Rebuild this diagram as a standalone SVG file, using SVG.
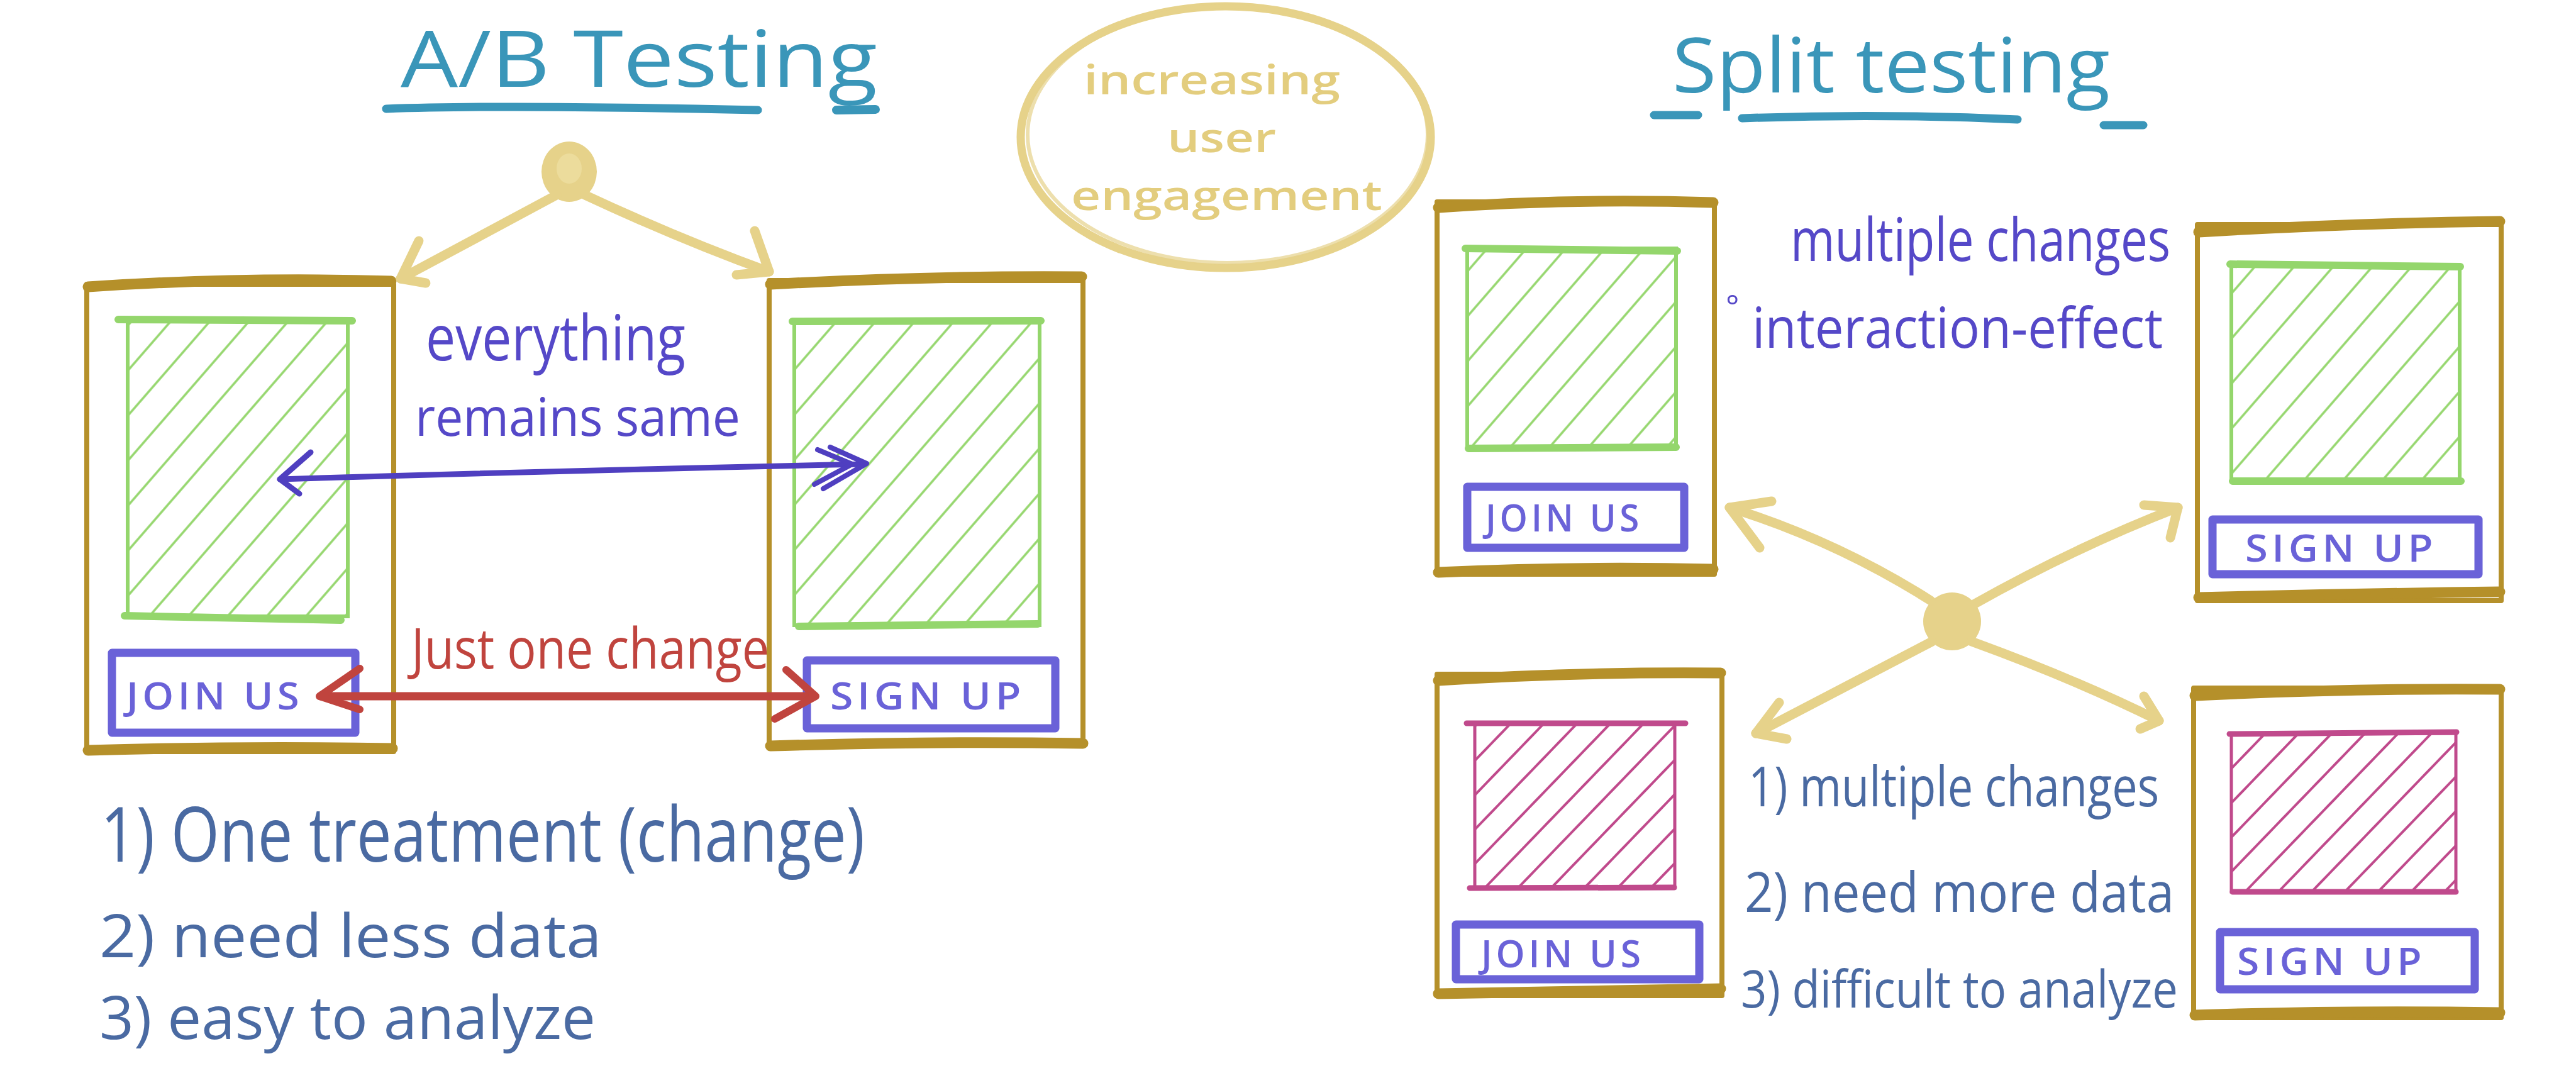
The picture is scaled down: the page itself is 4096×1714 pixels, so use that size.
<svg xmlns="http://www.w3.org/2000/svg" width="4096" height="1714" viewBox="0 0 4096 1714">
<defs>
<style>
.frame{fill:none;stroke:#b5902a;stroke-width:8;stroke-linecap:round;stroke-linejoin:round}
.frameTB{fill:none;stroke:#b5902a;stroke-width:17;stroke-linecap:round}
.green{stroke:#94d66c;stroke-width:6;stroke-linecap:round}
.greenTB{stroke:#94d66c;stroke-width:12;stroke-linecap:round}
.mag{stroke:#c04a8c;stroke-width:5;stroke-linecap:round}
.magTB{stroke:#c04a8c;stroke-width:9;stroke-linecap:round}
.btn{fill:none;stroke:#6a62d8;stroke-width:13;stroke-linejoin:round;stroke-linecap:round}
.btnt{font-family:"Open Sans","DejaVu Sans",sans-serif;font-size:60px;font-weight:600;fill:#6a62d8;letter-spacing:6px}
.hand{font-family:"Open Sans","DejaVu Sans",sans-serif;font-weight:400}
.title{fill:#3a96b9}
.purple{fill:#5548c8}
.list{fill:#4a6aa2}
.red{fill:#c0443e}
.yel{fill:#e3cd7e;font-weight:600}
.yline{fill:none;stroke:#e6d28a;stroke-width:15;stroke-linecap:round;stroke-linejoin:round}
</style>
<pattern id="hg" patternUnits="userSpaceOnUse" width="47" height="47" patternTransform="rotate(41)">
<line x1="23" y1="0" x2="23" y2="47" stroke="#94d66c" stroke-width="3.5"/>
</pattern>
<pattern id="hm" patternUnits="userSpaceOnUse" width="38" height="38" patternTransform="rotate(44)">
<line x1="19" y1="0" x2="19" y2="38" stroke="#c04a8c" stroke-width="4"/>
</pattern>
</defs>
<rect width="4096" height="1714" fill="#ffffff"/>

<g id="ab-title">
<text class="hand title" x="637" y="138" font-size="125" textLength="758" lengthAdjust="spacingAndGlyphs">A/B Testing</text>
<path d="M614 173 Q800 166 1205 175" fill="none" stroke="#3a96b9" stroke-width="13" stroke-linecap="round"/>
<path d="M1330 175 L1392 174" fill="none" stroke="#3a96b9" stroke-width="14" stroke-linecap="round"/>
</g>

<g id="ab-dot">
<ellipse cx="905" cy="273" rx="44" ry="48" fill="#e6d28a"/>
<ellipse cx="905" cy="268" rx="20" ry="24" fill="#ecdc9c"/>
</g>

<g id="engagement">
<ellipse cx="1949" cy="218" rx="326" ry="208" fill="none" stroke="#e6d28a" stroke-width="13"/>
<ellipse cx="1952" cy="214" rx="318" ry="204" fill="none" stroke="#e6d28a" stroke-width="6" opacity="0.7"/>
<text class="hand yel" x="1723" y="150" font-size="66" textLength="408" lengthAdjust="spacingAndGlyphs">increasing</text>
<text class="hand yel" x="1856" y="242" font-size="66" textLength="173" lengthAdjust="spacingAndGlyphs">user</text>
<text class="hand yel" x="1703" y="334" font-size="66" textLength="495" lengthAdjust="spacingAndGlyphs">engagement</text>
</g>

<g id="ab-phone-a">
<rect class="frame" x="138" y="452" width="488" height="743"/>
<path class="frameTB" d="M140 456 Q380 440 622 447"/>
<path class="frameTB" d="M140 1193 Q380 1186 624 1190"/>
<rect x="203" y="510" width="350" height="470" fill="url(#hg)"/>
<rect x="203" y="510" width="350" height="470" fill="none" class="green"/>
<path class="greenTB" d="M188 508 L560 510 M198 979 L542 986"/>
<rect class="btn" x="178" y="1038" width="387" height="127"/>
<text class="btnt" x="201" y="1128" textLength="281" lengthAdjust="spacingAndGlyphs">JOIN US</text>
</g>

<g id="ab-phone-b">
<rect class="frame" x="1223" y="446" width="499" height="739"/>
<path class="frameTB" d="M1225 452 Q1480 438 1720 440"/>
<path class="frameTB" d="M1225 1186 Q1480 1178 1722 1182"/>
<rect x="1263" y="510" width="390" height="484" fill="url(#hg)"/>
<rect x="1263" y="510" width="390" height="484" fill="none" class="green"/>
<path class="greenTB" d="M1260 511 L1655 510 M1270 996 L1650 992"/>
<rect class="btn" x="1283" y="1050" width="395" height="108"/>
<text class="btnt" x="1320" y="1128" textLength="310" lengthAdjust="spacingAndGlyphs">SIGN UP</text>
</g>

<g id="ab-texts">
<text class="hand purple" x="677" y="573" font-size="100" textLength="413" lengthAdjust="spacingAndGlyphs">everything</text>
<text class="hand purple" x="660" y="693" font-size="85" textLength="517" lengthAdjust="spacingAndGlyphs">remains same</text>
<text class="hand red" x="654" y="1063" font-size="89" textLength="569" lengthAdjust="spacingAndGlyphs">Just one change</text>
<text class="hand list" x="160" y="1370" font-size="120" textLength="1215" lengthAdjust="spacingAndGlyphs">1) One treatment (change)</text>
<text class="hand list" x="158" y="1522" font-size="95" textLength="799" lengthAdjust="spacingAndGlyphs">2) need less data</text>
<text class="hand list" x="158" y="1652" font-size="95" textLength="789" lengthAdjust="spacingAndGlyphs">3) easy to analyze</text>
</g>

<g id="split-title">
<text class="hand title" x="2659" y="147" font-size="120" textLength="696" lengthAdjust="spacingAndGlyphs">Split testing</text>
<path d="M2630 183 L2700 183 M2770 188 Q2990 180 3208 190 M3345 199 L3408 199" fill="none" stroke="#3a96b9" stroke-width="13" stroke-linecap="round"/>
</g>

<g id="split-phone-tl">
<rect class="frame" x="2285" y="321" width="441" height="592"/>
<path class="frameTB" d="M2287 330 Q2500 315 2724 322"/>
<path class="frameTB" d="M2287 910 Q2500 900 2724 905"/>
<rect x="2333" y="395" width="332" height="318" fill="url(#hg)"/>
<rect x="2333" y="395" width="332" height="318" fill="none" class="green"/>
<path class="greenTB" d="M2330 395 L2667 399 M2335 713 L2665 711"/>
<rect class="btn" x="2333" y="774" width="345" height="97"/>
<text class="btnt" x="2362" y="845" font-size="55" textLength="250" lengthAdjust="spacingAndGlyphs">JOIN US</text>
</g>

<g id="split-phone-tr">
<rect class="frame" x="3494" y="357" width="483" height="598"/>
<path class="frameTB" d="M3496 369 Q3730 355 3975 352"/>
<path class="frameTB" d="M3496 950 Q3730 944 3975 941"/>
<rect x="3548" y="422" width="363" height="343" fill="url(#hg)"/>
<rect x="3548" y="422" width="363" height="343" fill="none" class="green"/>
<path class="greenTB" d="M3546 420 L3912 424 M3550 765 L3913 765"/>
<rect class="btn" x="3518" y="826" width="423" height="87"/>
<text class="btnt" x="3570" y="893" font-size="55" textLength="305" lengthAdjust="spacingAndGlyphs">SIGN UP</text>
</g>

<g id="split-phone-bl">
<rect class="frame" x="2285" y="1072" width="453" height="511"/>
<path class="frameTB" d="M2287 1082 Q2500 1068 2736 1070"/>
<path class="frameTB" d="M2287 1580 Q2500 1576 2736 1572"/>
<rect x="2345" y="1150" width="318" height="262" fill="url(#hm)"/>
<rect x="2345" y="1150" width="318" height="262" fill="none" class="mag"/>
<path class="magTB" d="M2332 1150 L2680 1150 M2337 1412 L2662 1411"/>
<rect class="btn" x="2315" y="1470" width="387" height="87"/>
<text class="btnt" x="2355" y="1538" font-size="55" textLength="260" lengthAdjust="spacingAndGlyphs">JOIN US</text>
</g>

<g id="split-phone-br">
<rect class="frame" x="3488" y="1094" width="489" height="524"/>
<path class="frameTB" d="M3490 1106 Q3730 1094 3975 1096"/>
<path class="frameTB" d="M3490 1614 Q3730 1606 3975 1610"/>
<rect x="3548" y="1166" width="357" height="252" fill="url(#hm)"/>
<rect x="3548" y="1166" width="357" height="252" fill="none" class="mag"/>
<path class="magTB" d="M3545 1167 L3906 1164 M3550 1418 L3905 1418"/>
<rect class="btn" x="3530" y="1482" width="405" height="91"/>
<text class="btnt" x="3557" y="1550" font-size="55" textLength="300" lengthAdjust="spacingAndGlyphs">SIGN UP</text>
</g>

<g id="split-dot">
<ellipse cx="3104" cy="988" rx="46" ry="46" fill="#e6d28a"/>
</g>

<g id="split-texts">
<text class="hand purple" x="2847" y="415" font-size="95" textLength="604" lengthAdjust="spacingAndGlyphs">multiple changes</text>
<text class="hand purple" x="2744" y="505" font-size="50">°</text>
<text class="hand purple" x="2786" y="553" font-size="90" textLength="653" lengthAdjust="spacingAndGlyphs">interaction-effect</text>
<text class="hand list" x="2780" y="1282" font-size="88" textLength="653" lengthAdjust="spacingAndGlyphs">1) multiple changes</text>
<text class="hand list" x="2774" y="1450" font-size="88" textLength="683" lengthAdjust="spacingAndGlyphs">2) need more data</text>
<text class="hand list" x="2768" y="1602" font-size="82" textLength="695" lengthAdjust="spacingAndGlyphs">3) difficult to analyze</text>
</g>

<g id="connectors">
<path class="yline" d="M885 310 L637 443"/>
<path class="yline" d="M666 383 L637 443 L677 450"/>
<path class="yline" d="M930 310 Q1080 380 1223 432"/>
<path class="yline" d="M1200 367 L1223 432 L1171 437"/>
<path d="M445 762 Q900 748 1375 738" fill="none" stroke="#4f3fc0" stroke-width="9" stroke-linecap="round"/>
<path d="M494 719 L445 762 L476 785" fill="none" stroke="#4f3fc0" stroke-width="9" stroke-linecap="round" stroke-linejoin="round"/>
<path d="M1320 711 L1378 737 L1309 777 M1300 715 L1355 738 L1295 770" fill="none" stroke="#4f3fc0" stroke-width="8" stroke-linecap="round" stroke-linejoin="round"/>
<path d="M510 1107 L1292 1107" fill="none" stroke="#c0443e" stroke-width="13" stroke-linecap="round"/>
<path d="M572 1063 L508 1107 L572 1128" fill="none" stroke="#c0443e" stroke-width="12" stroke-linecap="round" stroke-linejoin="round"/>
<path d="M1250 1065 L1297 1107 L1232 1143" fill="none" stroke="#c0443e" stroke-width="12" stroke-linecap="round" stroke-linejoin="round"/>
<path class="yline" d="M3070 955 Q2920 860 2750 807"/>
<path class="yline" d="M2817 797 L2750 807 L2798 871"/>
<path class="yline" d="M3140 960 Q3300 870 3463 807"/>
<path class="yline" d="M3409 803 L3463 807 L3451 855"/>
<path class="yline" d="M3072 1020 L2792 1166"/>
<path class="yline" d="M2829 1117 L2792 1166 L2841 1175"/>
<path class="yline" d="M3135 1020 Q3300 1080 3433 1146"/>
<path class="yline" d="M3409 1107 L3433 1146 L3403 1159"/>
</g>
</svg>
